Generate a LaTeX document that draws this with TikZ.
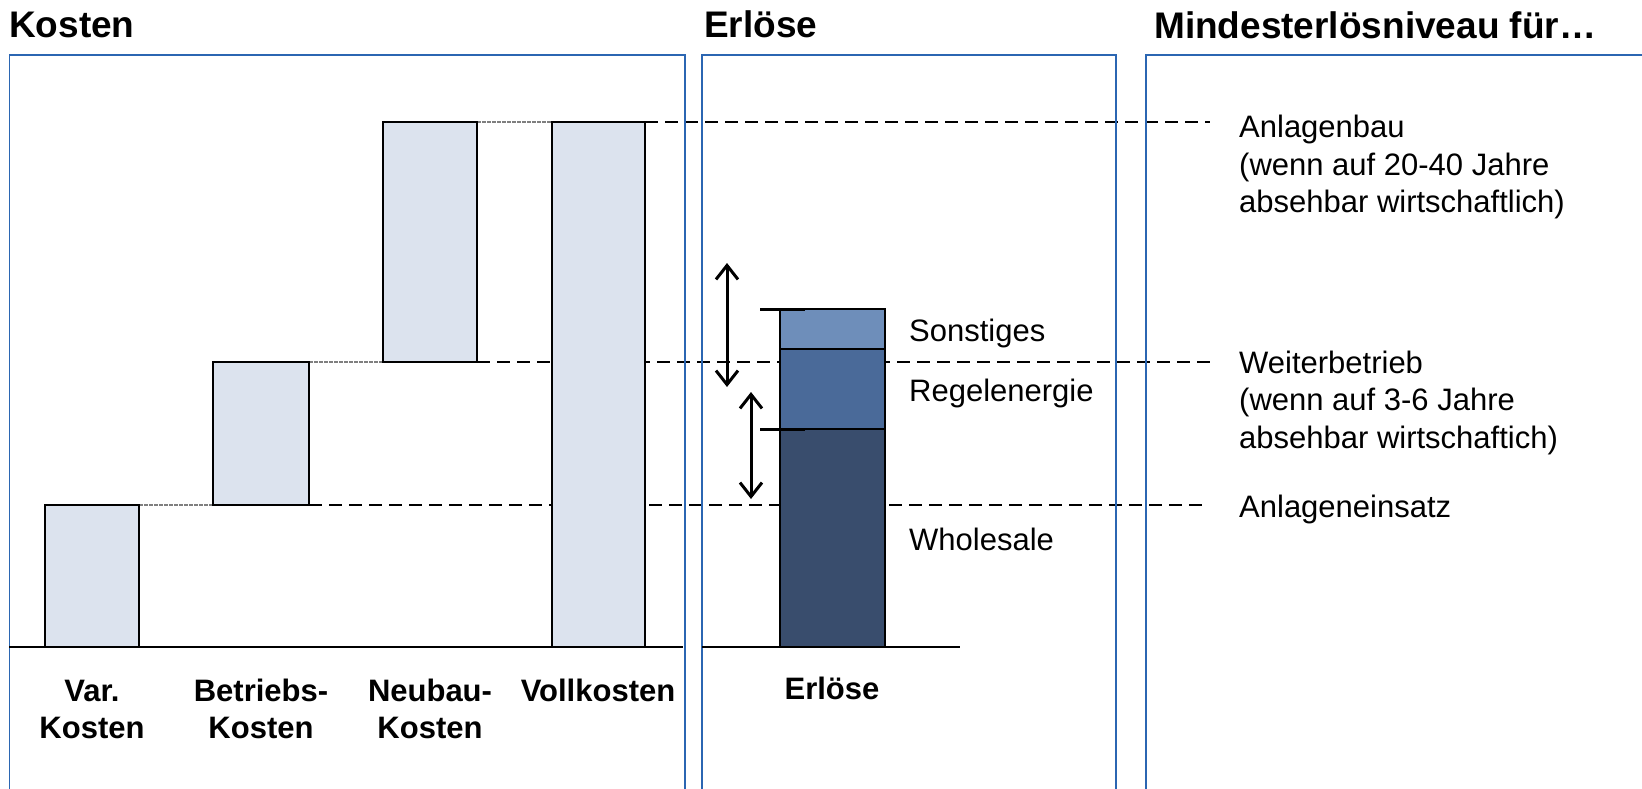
\documentclass[tikz,border=0pt]{standalone}
\usepackage{fontspec}
\setmainfont{Liberation Sans}
\usetikzlibrary{arrows.meta}
\pgfdeclarelayer{bg}
\pgfsetlayers{bg,main}
\definecolor{panelblue}{HTML}{2B66B2}
\definecolor{costfill}{HTML}{DCE3EE}
\definecolor{sonfill}{HTML}{6E8EBA}
\definecolor{regfill}{HTML}{4A6A99}
\definecolor{whfill}{HTML}{394D6D}
\definecolor{guidegray}{HTML}{7F7F7F}
\tikzset{
  panel/.style={draw=panelblue, line width=1.8pt},
  bar/.style={draw=black, line width=2pt, inner sep=0pt, outer sep=0pt, anchor=north west},
  costbar/.style={bar, fill=costfill},
  axisline/.style={black, line width=2.6pt},
  level/.style={black, line width=2pt, dash pattern=on 13pt off 7pt},
  guide/.style={guidegray, line width=2pt, dash pattern=on 3.5pt off 1.5pt},
  rangearrow/.style={black, line width=3pt, {Straight Barb[length=14pt,width=22pt]}-{Straight Barb[length=14pt,width=22pt]}},
  tickline/.style={black, line width=3pt},
  title/.style={font=\fontsize{37}{44}\selectfont\bfseries, anchor=base west, inner sep=0pt},
  catlabel/.style={font=\fontsize{31}{37}\selectfont\bfseries, align=center, anchor=base, inner sep=0pt},
  seglabel/.style={font=\fontsize{31}{37}\selectfont, anchor=base west, inner sep=0pt},
  note/.style={font=\fontsize{31}{37.5}\selectfont, align=left, anchor=base west, inner sep=0pt}
}
\begin{document}
\begin{tikzpicture}[x=1pt,y=-1pt]
\useasboundingbox (0,0) rectangle (1642,789);
\clip (0,0) rectangle (1642,789);
% titles
\node[title] (tK) at (9,38) {Kosten};
\node[title] (tE) at (704,38) {Erlöse};
\node[title] (tM) at (1154,39) {Mindesterlösniveau für…};
% panels
\draw[panel] (9.5,800) -- (9.5,55) -- (685,55) -- (685,800);
\draw[panel] (702,800) -- (702,55) -- (1116,55) -- (1116,800);
\draw[panel] (1146,800) -- (1146,55) -- (1660,55);
% cost bars
\node[costbar, minimum width=94pt, minimum height=142pt] (var) at (45,505) {};
\node[costbar, minimum width=96pt, minimum height=143pt] (betr) at (213,362) {};
\node[costbar, minimum width=94pt, minimum height=239.5pt] (neu) at (383,122.5) {};
\node[costbar, minimum width=93pt, minimum height=524.5pt] (voll) at (552,122.5) {};
% revenue stack
\node[bar, fill=whfill, minimum width=105pt, minimum height=218pt] (wh) at (780,429) {};
\node[bar, fill=regfill, minimum width=105pt, minimum height=80pt] (reg) at (780,349) {};
\node[bar, fill=sonfill, minimum width=105pt, minimum height=40pt] (son) at (780,309) {};
% free ends
\coordinate (endA) at (1210,122.5);
\coordinate (endW) at (1210,362);
\coordinate (endE) at (1204,505);
\coordinate (axK1) at (9,647);
\coordinate (axK2) at (683,647);
\coordinate (axE1) at (702,647);
\coordinate (axE2) at (960,647);
\coordinate (ar1a) at (727,263);
\coordinate (ar1b) at (727,387);
\coordinate (ar2a) at (751,392);
\coordinate (ar2b) at (751,499);
\coordinate (tk1) at (760,309);
\coordinate (tk2) at (760,429);
\begin{pgfonlayer}{bg}
\draw[level] (voll.north east) -- (endA);
\draw[level] (neu.south east) -- (endW);
\draw[level] (betr.south east) -- (endE);
\draw[guide] (var.north east) -- (betr.south west);
\draw[guide] (betr.north east) -- (neu.south west);
\draw[guide] (neu.north east) -- (voll.north west);
\end{pgfonlayer}
% axes
\draw[axisline] (axK1) -- (axK2);
\draw[axisline] (axE1) -- (axE2);
% ticks and arrows
\draw[tickline] (tk1) -- ([xshift=25pt]son.north west);
\draw[tickline] (tk2) -- ([xshift=25pt]wh.north west);
\draw[rangearrow] (ar1a) -- (ar1b);
\draw[rangearrow] (ar2a) -- (ar2b);
% category labels (base = last line)
\node[catlabel] (lvar) at (92,738) {Var.\\Kosten};
\node[catlabel] (lbetr) at (261,738) {Betriebs-\\Kosten};
\node[catlabel] (lneu) at (430,738) {Neubau-\\Kosten};
\node[catlabel] (lvoll) at (598,701) {Vollkosten};
\node[catlabel] (lerl) at (832,699) {Erlöse};
% segment labels
\node[seglabel] (lson) at (909,341) {Sonstiges};
\node[seglabel] (lreg) at (909,401) {Regelenergie};
\node[seglabel] (lwh) at (909,550) {Wholesale};
% notes (base = last line)
\node[note] (nA) at (1239,212.5) {Anlagenbau\\(wenn auf 20-40 Jahre\\absehbar wirtschaftlich)};
\node[note] (nW) at (1239,448) {Weiterbetrieb\\(wenn auf 3-6 Jahre\\absehbar wirtschaftich)};
\node[note] (nE) at (1239,517) {Anlageneinsatz};
\end{tikzpicture}
\end{document}
